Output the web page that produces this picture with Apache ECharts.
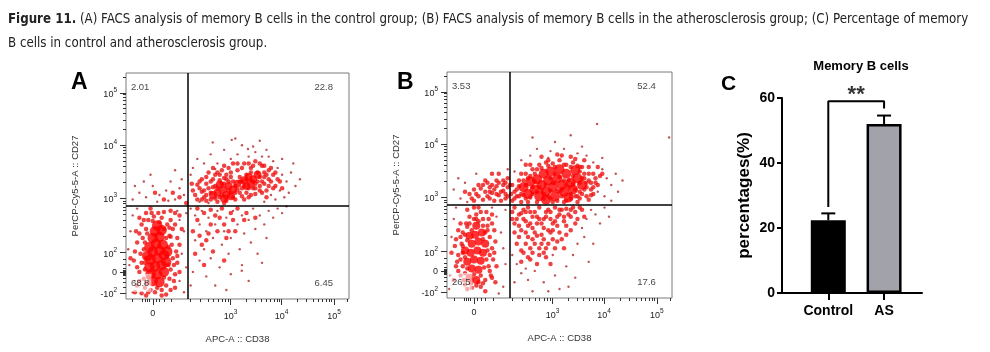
<!DOCTYPE html>
<html>
<head>
<meta charset="utf-8">
<script src="https://cdn.jsdelivr.net/npm/echarts@6/dist/echarts.min.js"></script>
<style>html,body{margin:0;padding:0;background:#fff}#chart{width:990px;height:352px}</style>
</head>
<body>
<div id="chart"></div>
<script>
// FACS axes use display units 0..100 (biexponential scale), ticks placed by hand
var xTickPos = [12, 46.9, 69.8, 93.3];
var xTickLabels = ['0', '10^3', '10^4', '10^5'];
var xMinorPos = [3, 7.5, 8.5, 9.5, 10.5, 13.5, 15, 17, 20.5, 28.8, 33.4, 36.7, 39.2, 41.2, 43.0, 44.5, 45.8,
  53.8, 57.9, 60.7, 63.0, 64.8, 66.3, 67.7, 68.8, 76.9, 81.0, 84.0, 86.2, 88.1, 89.7, 91.0, 92.2, 99.2];
var yTickPos = [2.7, 11.9, 20.5, 44.7, 68.1, 91.2];
var yTickLabels = ['-10^2', '0', '10^2', '10^3', '10^4', '10^5'];
var yMinorPos = [5, 7.5, 9, 10.4, 11, 11.4, 12.4, 12.8, 13.4, 15.5, 17.5, 27.7, 31.9, 34.9, 37.3, 39.2, 40.8, 42.2, 43.4,
  51.7, 55.9, 58.8, 61.1, 62.9, 64.5, 65.8, 67.0, 75.1, 79.2, 82.2, 84.5, 86.3, 87.9, 89.2, 90.4, 98.2];
var gateX = 27.9, gateY = 41.3;
var quadA = ['2.01', '22.8', '68.8', '6.45'];
var quadB = ['3.53', '52.4', '26.5', '17.6'];

// panel A events
var aCoreLL = [[12,8],[15,7.5],[11,11],[14,11],[17,12],[10.5,14],[13,14.5],[16,15],[18,16.5],[11,17.5],[14,18],[17,19.5],
  [12,21],[15,21.5],[10.5,23],[13.5,24.5],[16.5,24],[12,27],[15,27.5],[13,30],[16,30.5],[14,32.5],[18.5,21],[9.5,19]];
var aCoreUR = [[41,47],[43.5,48.5],[45,46],[46,50],[44,44.5],[48,48.5],[50,51],[53,52.5],[55,54],[57,53],[56,51],[59,55],
  [42,50.5],[39,46],[47,45.5],[54,50]];
var aMid = [[6,12],[7,16],[8,9],[8,22],[7.5,27],[9,31],[10,35],[11,4],[13,3],[16,4],[18,6],[19.5,9],[20,13],[21,18],
  [20.5,24],[19.5,28],[18.5,33],[16,36],[12.5,36.5],[6.5,20],[8.5,5],[20,4],[22,11],[22.5,21],[21,31],[7,33],[5,25],
  [9,38],[17,38.5],[23,27],
  [31,46],[33,49],[35,45],[36,51],[38,47],[39,53],[40,44.5],[41,49],[42,55],[43,46],[44,51],[45,43.5],[46,48],[47,54],
  [48,45],[49,50],[50,57],[51,47],[52,52],[53,44],[54,55],[55,49],[56,58],[57,52],[58,46.5],[59,56],[60,50],[61,59],
  [62,54],[63,48],[64,57],[65,52],[37,56],[34,53],[46,58],[53,60],[44,42.5],[58,61],[66,55],[29.5,51]];
var aMid2 = [[9,7],[10,3],[14,5],[17,9.5],[19,15],[18.5,19],[19,23],[18,27],[17,31],[15,34],[12,34.5],[9.5,29],[8.5,25],
  [9,18],[8.5,13],[10,9.5],[11.5,38],[14.5,38],[20,35],[22,38],[6,36],[4.5,30],[3.5,17],[5,6],[7,2.5],[18,2],[21.5,8],
  [23,16],[24,24],[22,33],
  [32,44],[34,47.5],[36,43.5],[37,49],[38,52],[40,50],[42,52.5],[43,57],[45,55],[48,52],[49,47],[51,54],[52,58],[54,47],
  [55,45],[56,56],[58,49],[59,52],[60,54],[61,47],[62,51],[63,55],[64,50],[65,58],[60,60],[57,59],[50,60],[47,56],
  [41,56],[35,48],[33,52],[39,58],[67,50],[68,53],[52,49],[45,53],
  [32,35],[35,38],[38,33],[42,36],[44,33],[48,35],[36,26],[41,30],[46,30],[39,21],[33,28],[50,40],[54,38],[58,36]];
var aMid3 = [[30,48],[32,50.5],[34,44],[36,46],[38,44],[39,49.5],[41,43],[42,45],[43,51],[44,53.5],[46,52],[47,47],
  [49,44],[50,48.5],[51,52],[52,45.5],[53,50],[54,53],[56,46],[57,49],[58,51],[60,48],[61,52],[62,56],[63,45],[64,53],
  [66,49],[67,56],[69,52],[70,49],[62,59],[55,60],[48,60],[44,59],[40,55],[36,54],
  [4,3],[6,8],[5,14],[4,21],[6,29],[8,35],[11,40],[20,39],[24,37],[25,31],[23,19],[24,12],[22,5],[16,1.5],[9,1.5],
  [2,18],[20,27.5],[8.5,16],[19.5,31.5],[21.5,15],
  [30,30],[32,40],[34,24],[37,29],[40,37],[43,40],[45,27],[47,38],[49,30],[53,35],[31,20],[35,15],[38,39.5],[44,17],
  [27,42.5],[24,45],[21,47],[17,44],[13,47]];
var aSparse = [[3,44],[6,47],[9,45],[12,50],[15,46],[18,48],[20,52],[22,44],[24,49],[26,46],[8,52],[14,43],[25,53],
  [19,43.5],[4,50],[11,55],[22,57],
  [30,58],[32,62],[35,60],[38,64],[41,60],[44,66],[47,62],[50,64],[52,68],[55,63],[58,65],[61,63],[63,66],[66,61],
  [68,58],[70,55],[72,52],[74,56],[76,50],[78,53],[69,48],[71,45],[67,44],[73,47],[62,43],[65,46],[33,43],[37,42.5],
  [60,70],[49,71],[57,67.5],[75,60],[29,55],[70,62],[40,57.5],[64,63],[38.9,69.3],[47.4,70.4],[54.7,66.4],
  [29,40],[31,37],[33,33],[34,39],[36,30],[37,36],[39,27],[40,33],[41,39],[43,24],[44,30],[45,36],[46,20],[47,27],
  [48,39],[50,33],[51,22],[52,37],[53,29],[55,35],[56,25],[57,40],[58,31],[60,37],[62,33],[64,39],[66,36],[68,40],
  [70,38],[35,22],[38,18],[42,14],[47,11],[52,15],[55,8],[31,26],[33,17],[36,10],[40,6],[45,4],[30,12],[29,6],
  [59,20],[63,27],[72,41],[61,16],[51.9,12.5],
  [2,30],[3,37],[1.5,15],[4,8],[24,35],[26,30],[25,20],[27,14],[24,8],[26,3],[3,3],[23,39],[27,38],[5,40],[1,22]];

// panel B events
var bCoreLL = [[10,9],[13,8],[11,13],[14,12.5],[9,16],[12,17],[15,16.5],[10.5,20],[13.5,21],[16,20],[11,24],[14,25],
  [12.5,28],[15.5,29],[10,27.5],[13,32],[8,21],[17,24]];
var bCoreUR = [[36,46],[39,48],[41,45],[42,50],[44,47],[45,52],[47,49],[48,45],[49,53],[51,50],[52,47],[53,55],[55,51],
  [56,48],[58,53],[40,52.5],[43,55],[46,56],[50,57],[34,49],[37,51.5],[54,44.5],[60,50],[57,56.5],[44,43.5]];
var bMid = [[6,10],[7,14],[5,19],[6.5,24],[7,29],[8.5,33],[10,36],[13,37],[16,35],[18,32],[19,27],[20,22],[20.5,17],
  [19,12],[17,8],[15,5],[11,4.5],[8,6],[4,14],[3.5,23],[5,30],[17.5,38],[21,30],[22,14],[9,39],[14,40],[3,8],[21.5,7],
  [30,44],[31,48],[32,52],[33,46],[35,55],[36,42.5],[38,57],[41,59],[44,60],[47,59.5],[50,61],[53,59],[56,60],[59,58],
  [61,55],[63,52],[64,48],[62,45],[59,44],[65,55],[66,51],[29,50],[28.5,46],[35,59],[42,62.5],[49,63.5],[55,62.5],
  [61,61],[67,58],[68,54],[52,42.5],[40,42.5],[47,42.5],[58,42.5],[63,43.5],
  [14,45],[17,47],[19,44],[21,48],[23,45.5],[25,50],[26,46],[22,52],[18,51],[27,53],[24,43],[12,48],[20,55],[16,43.5],[10,46],
  [30,40],[32,37],[34,39],[35,34],[37,38],[38,31],[40,36],[41,40],[42,33],[44,38],[45,30],[46,35],[48,40],[49,32],
  [50,37],[52,34],[53,39.5],[55,36],[57,38],[59,40],[36,27],[39,24],[42,28],[44,22],[47,26],[50,29],[33,30],[31,24],
  [34,20],[37,17],[41,19],[46,15],[52,22],[55,30],[30,33]];
var bMid2 = [[8,11],[9,13],[12,10.5],[15,10],[16.5,13.5],[17.5,17],[18,21],[8,18],[7,23],[9,25.5],[16,26],[17,29],[11,30],
  [14,34],[12,35],[9,31.5],[6,27],[18.5,35],[19.5,10],[7.5,8],[13,5.5],[10.5,6.5],[16,6.5],[4.5,16],[4,26],[20,33],
  [21.5,25],[15,38],
  [33,42.5],[35,44],[37,44.5],[38,46],[40,47],[43,44],[46,44],[49,43],[51,45],[53,43],[55,46],[57,45],[59,47],[61,48],
  [62,51],[60,53],[59,56],[58,58.5],[55,58],[52,59],[48,58],[45,58.5],[42,57.5],[39,55],[37,54],[34,52],[32,49.5],
  [31,45],[44,50],[48,51],[52,52],[56,54],[50,47],[46,53],[42,47.5],[54,49],[63,58],[65,46],[66,53],
  [13,46],[15,48.5],[18,45],[20,46.5],[22,49.5],[24,47],[26,44],[27,49],[25,52],[23,55],[19,49],[16,50],[11,44],[21,43],
  [29,38],[31,35],[33,37.5],[36,40],[38,36],[40,33],[43,35],[45,39],[47,33],[49,36],[51,39],[54,37],[56,40],[58,35],
  [39,29],[43,26],[46,29],[48,22],[35,24],[32,27],[38,20],[42,24],[53,32],[36,32],[40,15],[44,18],[51,26],[33,16]];
var bMid3 = [[30,47],[32,45],[34,45.5],[35,50],[36,53],[38,49],[39,51.5],[41,49],[43,46],[45,45],[46,47.5],[47,51],
  [48,55],[49,47.5],[51,48],[50,53.5],[53,50],[54,52],[55,44],[56,50.5],[57,48],[58,45],[59,51],[60,46],[61,53],[62,49],
  [63,55],[64,51],[65,49],[45,61],[51,63],[57,61.5],[40,57],[37,59],[33,55],[29,43],[67,50],[69,55],[64,45.5],[60,58],
  [29,35],[30,29],[32,32],[34,35],[35,38],[37,33],[39,38],[41,35],[43,31],[44,36],[46,38],[47,30],[48,34],[50,39],
  [52,36],[53,28],[55,39],[57,33],[60,39],[61,36],[35,29],[38,26],[41,22],[45,24],[49,25],[37,22],[40,27.5],[43,20],
  [33,21],[36,18],
  [12,43],[14,50],[17,52],[20,50],[23,51],[26,51],[27,45],[25,47.5],[22,46],[19,47],[8,47],[28,50],
  [5,12],[6,17],[7,20],[8,28],[10,33],[13,35],[16,32],[18,30],[19,19],[18.5,14],[14,7],[11,8],[9,4],[17,3],[20,9],
  [21,20],[6,33],[2,20],[12,40],[20,37]];
var bSparse = [[3,48],[6,44],[8,51],[5,53],[13,55],[27,57],[9,42.5],
  [31,15],[33,11],[36,8],[39,12],[43,7],[48,10],[53,14],[56,19],[58,24],[60,31],[62,35],[64,39],[66,37],[68,33],
  [61,27],[57,9],[50,4],[45,3],[38,3],[30,7],[29,19],[65,24],[70,40],[72,36],[54,5],[63,16],[47,19],[35,13],
  [30,56],[33,61],[37,63],[40,66],[46,65],[52,66],[58,64],[62,63],[65,60],[69,57],[71,53],[73,50],[75,55],[76,47],
  [70,45],[67,47],[73,43],[69,62],[60,67],[48,69],[55,72],[38,71],[78,52],[45,62],[66.7,77],[98.7,71],
  [1.5,10],[2,27],[3,35],[4,40],[22,36],[24,29],[25,22],[26,15],[25,5],[23,2],[1,4],[20,40],[26,39]];

// panel C
var groups = ['Control', 'AS'];
var means = [22.4, 52.0];
var errTop = [24.5, 54.6];
var bracketX = [1, 1, 2, 2];
var bracketY = [26.5, 59, 59, 56.8];
var sigText = '**';

var font = 'Liberation Sans, Arial, sans-serif';
var rich = {
  b: {fontSize: 9, fontFamily: font, color: '#222', verticalAlign: 'bottom'},
  s: {fontSize: 6.5, fontFamily: font, color: '#222', verticalAlign: 'bottom', padding: [0, 0, 5, 0]}
};
function supLabel(pos, labels) {
  return function (v) {
    var i = pos.findIndex(function (p) { return Math.abs(p - v) < 1e-6; });
    if (i < 0) return '';
    var t = labels[i];
    if (t.indexOf('^') < 0) return '{b|' + t + '}';
    var parts = t.split('^');
    return '{b|' + parts[0] + '}{s|' + parts[1] + '}';
  };
}

var myChart = echarts.init(document.getElementById('chart'));

function facsAxes(g) {
  var xs = [
    {gridIndex: g, type: 'value', min: 0, max: 100, position: 'bottom',
      axisLine: {show: false}, splitLine: {show: false},
      axisTick: {customValues: xTickPos, length: 6, lineStyle: {color: '#333'}},
      axisLabel: {customValues: xTickPos, formatter: supLabel(xTickPos, xTickLabels), margin: 10, rich: rich},
      name: 'APC-A :: CD38', nameLocation: 'middle', nameGap: 35,
      nameTextStyle: {fontFamily: font, fontSize: 9.5, color: '#333'}},
    {gridIndex: g, type: 'value', min: 0, max: 100, position: 'bottom',
      axisLine: {show: false}, splitLine: {show: false}, axisLabel: {show: false},
      axisTick: {customValues: xMinorPos, length: 3, lineStyle: {color: '#333'}}}
  ];
  var ys = [
    {gridIndex: g, type: 'value', min: 0, max: 100, position: 'left',
      axisLine: {show: false}, splitLine: {show: false},
      axisTick: {customValues: yTickPos, length: 6, lineStyle: {color: '#333'}},
      axisLabel: {customValues: yTickPos, formatter: supLabel(yTickPos, yTickLabels), margin: 9, rich: rich},
      name: 'PerCP-Cy5-5-A :: CD27', nameLocation: 'middle', nameGap: 46,
      nameTextStyle: {fontFamily: font, fontSize: 9.5, color: '#333'}},
    {gridIndex: g, type: 'value', min: 0, max: 100, position: 'left',
      axisLine: {show: false}, splitLine: {show: false}, axisLabel: {show: false},
      axisTick: {customValues: yMinorPos, length: 3, lineStyle: {color: '#333'}}}
  ];
  return {xs: xs, ys: ys};
}
var fa = facsAxes(0), fb = facsAxes(1);

function dots(ax, data, size, color) {
  return {type: 'scatter', xAxisIndex: ax, yAxisIndex: ax, data: data, symbolSize: size,
    itemStyle: {color: color}, silent: true, animation: false};
}
function gates(ax) {
  return {type: 'scatter', xAxisIndex: ax, yAxisIndex: ax, data: [], silent: true,
    markLine: {silent: true, symbol: ['none', 'none'], animation: false, label: {show: false},
      lineStyle: {color: '#000', width: 1.5, type: 'solid'},
      data: [{xAxis: gateX}, {yAxis: gateY}]}};
}
var quadAnchor = [[1.3, 93.8, 'right'], [93.7, 93.8, 'left'], [1.3, 7.1, 'right'], [93.7, 7.1, 'left']];
function quads(ax, texts) {
  return {type: 'scatter', xAxisIndex: ax, yAxisIndex: ax, symbolSize: 0, silent: true, animation: false,
    data: texts.map(function (t, i) {
      return {value: [quadAnchor[i][0], quadAnchor[i][1]], name: t,
        label: {show: true, position: quadAnchor[i][2], distance: 0, formatter: '{b}',
          fontFamily: font, fontSize: 9.5, color: '#111',
          backgroundColor: 'rgba(255,255,255,0.7)', padding: [4, 2]}};
    })};
}

var barStyles = [
  {color: '#000', borderColor: '#000', borderWidth: 2},
  {color: '#a2a2aa', borderColor: '#000', borderWidth: 2.5}
];

var capFont = 'Liberation Sans Narrow, DejaVu Sans Condensed, sans-serif';
var option = {
  animation: false,
  title: [
    {left: 3, top: 3, text: '{h|Figure 11.} (A) FACS analysis of memory B cells in the control group; (B) FACS analysis of memory B cells in the atherosclerosis group; (C) Percentage of memory\nB cells in control and atherosclerosis group.',
      textStyle: {fontFamily: capFont, fontSize: 13.2, fontWeight: 'normal', color: '#222', lineHeight: 24,
        rich: {h: {fontFamily: capFont, fontSize: 13.2, fontWeight: 'bold', color: '#222', lineHeight: 24}}}},
    {left: 66, top: 66, text: 'A', textStyle: {fontFamily: font, fontSize: 23, fontWeight: 'bold', color: '#000'}},
    {left: 392, top: 66, text: 'B', textStyle: {fontFamily: font, fontSize: 23, fontWeight: 'bold', color: '#000'}},
    {left: 716, top: 69, text: 'C', textStyle: {fontFamily: font, fontSize: 21, fontWeight: 'bold', color: '#000'}},
    {left: 856, top: 55, textAlign: 'center', text: 'Memory B cells', textStyle: {fontFamily: font, fontSize: 13, fontWeight: 'bold', color: '#000'}}
  ],
  grid: [
    {left: 126, top: 73, width: 223, height: 226, show: true, borderColor: '#7a7a7a', borderWidth: 1},
    {left: 447, top: 72, width: 225, height: 226, show: true, borderColor: '#7a7a7a', borderWidth: 1},
    {left: 782, top: 98, width: 140, height: 195}
  ],
  xAxis: fa.xs.concat(fb.xs).concat([
    {gridIndex: 2, type: 'value', min: 0.17, max: 2.68, splitLine: {show: false},
      axisLine: {lineStyle: {color: '#000', width: 2}},
      axisTick: {customValues: [1, 2], length: 7, lineStyle: {color: '#000', width: 2}},
      axisLabel: {customValues: [1, 2], margin: 11, fontFamily: font, fontSize: 14, fontWeight: 'bold', color: '#000',
        formatter: function (v) { return groups[Math.round(v) - 1] || ''; }}}
  ]),
  yAxis: fa.ys.concat(fb.ys).concat([
    {gridIndex: 2, type: 'value', min: 0, max: 60, interval: 20, splitLine: {show: false},
      axisLine: {show: true, lineStyle: {color: '#000', width: 2}},
      axisTick: {show: true, length: 5, lineStyle: {color: '#000', width: 2}},
      axisLabel: {margin: 7, fontFamily: font, fontSize: 14, fontWeight: 'bold', color: '#000'},
      name: 'percentages(%)', nameLocation: 'middle', nameGap: 29,
      nameTextStyle: {fontFamily: font, fontSize: 17, fontWeight: 'bold', color: '#000'}}
  ]),
  series: [
    dots(0, aSparse, 2.4, '#b0282a'),
    dots(0, aMid, 4.5, '#ea1414'),
    dots(0, aMid2, 4.5, '#ea1414'),
    dots(0, aMid3, 4.5, '#f01010'),
    dots(0, aCoreUR, 8, '#ff0000'),
    dots(0, aCoreLL, 10.5, '#ff0000'),
    gates(0),
    quads(0, quadA),
    dots(2, bSparse, 2.4, '#b0282a'),
    dots(2, bMid, 4.5, '#ea1414'),
    dots(2, bMid2, 4.5, '#ea1414'),
    dots(2, bMid3, 4.5, '#f01010'),
    dots(2, bCoreUR, 10, '#ff0000'),
    dots(2, bCoreLL, 8, '#ff0000'),
    gates(2),
    quads(2, quadB),
    {type: 'bar', xAxisIndex: 4, yAxisIndex: 4, barWidth: 35, silent: true,
      data: groups.map(function (g, i) { return {value: [i + 1, means[i]], itemStyle: barStyles[i]}; })},
    {type: 'custom', xAxisIndex: 4, yAxisIndex: 4, silent: true,
      data: groups.map(function (g, i) { return [i + 1, means[i], errTop[i]]; }),
      renderItem: function (params, api) {
        var base = api.coord([api.value(0), api.value(1)]);
        var top = api.coord([api.value(0), api.value(2)]);
        var st = {stroke: '#000', lineWidth: 2};
        return {type: 'group', children: [
          {type: 'line', shape: {x1: base[0], y1: base[1], x2: top[0], y2: top[1]}, style: st},
          {type: 'line', shape: {x1: top[0] - 7, y1: top[1], x2: top[0] + 7, y2: top[1]}, style: st}
        ]};
      }},
    {type: 'line', xAxisIndex: 4, yAxisIndex: 4, silent: true, symbol: 'none',
      lineStyle: {color: '#000', width: 2},
      data: bracketX.map(function (x, i) { return [x, bracketY[i]]; })},
    {type: 'scatter', xAxisIndex: 4, yAxisIndex: 4, silent: true, clip: false, symbolSize: 0,
      data: [[1.5, 60.8]],
      label: {show: true, position: 'inside', formatter: sigText, fontFamily: font, fontSize: 22, fontWeight: 'bold', color: '#000'}}
  ]
};
myChart.setOption(option);
</script>
</body>
</html>
